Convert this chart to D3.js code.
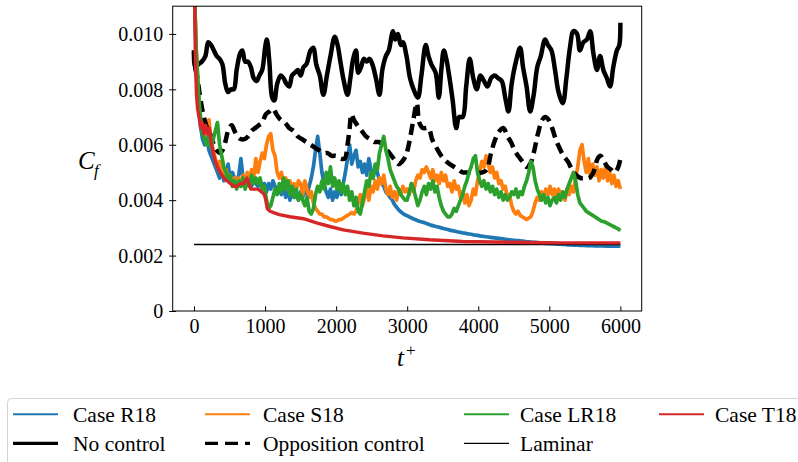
<!DOCTYPE html>
<html>
<head>
<meta charset="utf-8">
<script src="https://cdn.jsdelivr.net/npm/d3@7"></script>
<style>
  body { margin: 0; background: #fff; }
  svg { display: block; }
  svg text { font-family: "Liberation Serif", "Times New Roman", serif; }
</style>
</head>
<body>
<svg id="chart" width="798" height="462"></svg>
<script>
// sample times of the noisy runs (t+)
const tGrid = d3.range(0, 6001, 30);

// Cf in units of 1e-4, one value per tGrid point
const r18 = [
  120, 92, 76, 67, 62, 60, 63, 58, 56, 54,
  52, 50, 48, 51, 47, 49, 53, 47, 50, 48,
  46, 49, 55, 48, 46, 49, 47, 45, 48, 46,
  45, 47, 44, 46, 43, 46, 44, 47, 45, 43,
  44, 42, 45, 41, 44, 40, 43, 41, 42, 40,
  43, 41, 44, 42, 45, 48, 52, 58, 63, 57,
  50, 46, 43, 41, 44, 40, 43, 41, 45, 42,
  46, 50, 55, 60, 53, 56, 58, 52, 54, 50,
  53, 49, 55, 51, 48, 52, 50, 47, 46, 45,
  43, 42, 41, 40, 38.5, 37.5, 36.5, 35.8, 35.2, 34.7,
  34.4, 34, 33.6, 33.2, 32.9, 32.6, 32.3, 32.1, 31.9, 31.6,
  31.3, 31.0, 30.8, 30.6, 30.4, 30.2, 30.0, 29.8, 29.6, 29.4,
  29.2, 29.0, 28.9, 28.7, 28.5, 28.4, 28.2, 28.1, 27.9, 27.8,
  27.7, 27.5, 27.4, 27.3, 27.1, 27.0, 26.9, 26.8, 26.7, 26.6,
  26.5, 26.4, 26.3, 26.2, 26.1, 26.0, 25.9, 25.8, 25.7, 25.6,
  25.5, 25.4, 25.4, 25.3, 25.2, 25.1, 25.0, 25.0, 24.9, 24.8,
  24.8, 24.7, 24.6, 24.6, 24.5, 24.4, 24.4, 24.3, 24.3, 24.2,
  24.2, 24.1, 24.1, 24.0, 24.0, 23.9, 23.9, 23.9, 23.8, 23.8,
  23.8, 23.7, 23.7, 23.7, 23.6, 23.6, 23.6, 23.6, 23.5, 23.5,
  23.5, 23.5, 23.5, 23.4, 23.4, 23.4, 23.4, 23.4, 23.4, 23.4,
  23.4
];

const s18 = [
  120, 95, 80, 70, 66, 63, 66, 69, 62, 58,
  55, 52, 54, 50, 49, 51, 47, 49, 46, 48,
  45, 48, 45, 49, 46, 50, 47, 51, 48, 55,
  50, 54, 57, 55, 60, 63, 64, 58, 56, 50,
  48, 50, 46, 48, 44, 47, 43, 46, 44, 47,
  46, 42, 47, 44, 41, 43, 39, 37, 36, 35,
  35, 34, 34, 33.5, 33, 33, 32.5, 32.5, 33, 33,
  33.5, 34, 34.5, 35, 35.5, 35, 36, 39, 42, 38,
  41, 44, 40, 45, 43, 47, 44, 48, 46, 49,
  44, 42, 45, 41, 43, 40, 44, 42, 45, 43,
  44, 42, 46, 43, 47, 49, 48, 51, 50, 52,
  50, 48, 51, 47, 49, 46, 50, 47, 49, 45,
  46, 43, 47, 44, 45, 41, 43, 39, 42, 38,
  40, 44, 42, 47, 50, 54, 52, 56, 53, 50,
  52, 48, 50, 46, 47, 44, 45, 41, 42, 38,
  36, 35, 36, 34.5, 34, 33.5, 33, 33.5, 34, 36,
  39, 41, 40, 43, 41, 44, 42, 45, 42, 44,
  41, 44, 42, 43, 40, 44, 42, 45, 43, 48,
  52, 58, 60, 54, 50, 55, 48, 53, 49, 52,
  47, 51, 48, 52, 47, 50, 46, 49, 45, 47,
  44
];

const lr18 = [
  120, 95, 80, 70, 64, 62, 60, 63, 59, 62,
  65, 68, 60, 56, 52, 50, 47, 49, 45, 47,
  44, 47, 45, 48, 44, 47, 45, 49, 46, 48,
  46, 48, 44, 45, 40, 37, 38, 41, 44, 42,
  46, 43, 48, 44, 47, 42, 45, 41, 44, 40,
  42, 40, 38, 41, 36, 35, 37, 42, 45, 43,
  47, 44, 50, 46, 52, 45, 48, 44, 47, 43,
  46, 42, 45, 40, 43, 38, 41, 36, 35, 39,
  43, 47, 45, 50, 48, 53, 51, 57, 60, 63,
  58, 55, 51, 49, 47, 45, 44, 42, 41, 40,
  40, 43, 46, 44, 41, 38, 40, 43, 45, 42,
  46, 44, 47, 43, 45, 41, 38, 36, 35, 34,
  34, 35, 37, 36, 38, 40, 42, 45, 47, 50,
  52, 55, 56, 50, 47, 45, 47, 44, 46, 43,
  45, 42, 44, 41, 43, 40, 42, 40, 41, 43,
  42, 44, 41, 43, 42, 45, 47, 50, 54, 52,
  47, 44, 42, 40, 42, 39, 41, 38, 40, 41,
  39, 42, 40, 43, 41, 44, 46, 48, 50, 47,
  42, 39, 38, 37, 36, 35.5, 35, 34.5, 34, 33.5,
  33, 32.5, 32.3, 32, 31.6, 31.2, 30.8, 30.4, 30, 29.6,
  29
];

// smooth runs: own time stamps, Cf in units of 1e-4
const t18T = [0, 8, 20, 35, 50, 70, 95, 115, 140, 165, 190, 215, 240, 270, 300, 330, 370, 420, 464, 510,
  557, 600, 651, 700, 745, 770, 800, 850, 900, 950, 990, 1010, 1030, 1070, 1120, 1200, 1350, 1541, 1724, 1911,
  2100, 2378, 2659, 2939, 3313, 3780, 4248, 4715, 5182, 6000];
const t18V = [250, 115, 90, 78, 73, 70, 66, 68, 64, 67, 64, 66, 61, 57, 54, 52, 50, 48, 47, 46,
  45, 45, 46, 46, 48, 46, 44, 44, 44, 43, 42, 40, 37, 36.0, 35.5, 34.8, 34.0, 33.3, 31.8, 30.5,
  29.3, 28.1, 27.1, 26.4, 25.7, 25.1, 24.9, 24.7, 24.6, 24.6];

const noCtrlT = [0, 15, 60, 110, 160, 200, 240, 280, 320, 360, 400, 440, 480, 520, 560, 600, 650, 680, 720, 760,
  800, 840, 880, 920, 960, 1000, 1025, 1060, 1100, 1130, 1170, 1220, 1260, 1300, 1340, 1380, 1420, 1460, 1500, 1540,
  1580, 1640, 1680, 1720, 1770, 1820, 1870, 1920, 1980, 2020, 2060, 2100, 2160, 2200, 2240, 2280, 2310, 2350, 2390, 2430,
  2470, 2510, 2560, 2610, 2650, 2700, 2740, 2800, 2830, 2870, 2910, 2940, 2990, 3040, 3090, 3150, 3200, 3260, 3300, 3340,
  3400, 3445, 3480, 3516, 3550, 3590, 3640, 3690, 3730, 3780, 3830, 3880, 3930, 3980, 4030, 4080, 4130, 4180, 4230, 4280,
  4330, 4380, 4425, 4470, 4530, 4589, 4630, 4680, 4730, 4780, 4830, 4880, 4940, 4980, 5030, 5080, 5130, 5190, 5240, 5290,
  5340, 5390, 5430, 5480, 5530, 5575, 5620, 5670, 5714, 5760, 5810, 5855, 5900, 5950, 5985, 6000];
const noCtrlV = [94, 88, 89, 90, 92, 97, 96, 94, 92, 91, 89, 82, 79, 80, 80, 87, 93, 94, 90, 90,
  88, 84, 83, 85, 87, 95, 98, 90, 77, 76, 82, 85, 84, 82, 81, 85, 86, 87, 85, 88,
  89, 94, 95, 89, 85, 78, 85, 92, 99, 96, 90, 84, 78, 84, 91, 94, 86, 88, 91, 90,
  91, 89, 84, 78, 87, 92, 94, 101, 98, 100, 96, 97, 92, 84, 80, 77, 85, 96, 92, 89,
  86, 77, 87, 94, 91, 85, 76, 66, 70, 70, 81, 91, 84, 80, 85, 83, 81, 84, 85, 84,
  83, 77, 72, 82, 90, 95, 88, 81, 72, 78, 88, 92, 98, 96, 94, 87, 79, 75, 84, 95,
  101, 100, 94, 97, 98, 101, 93, 87, 92, 87, 84, 81, 88, 94, 96, 104];

const oppT = [0, 15, 40, 70, 100, 130, 160, 200, 240, 280, 320, 360, 400, 440, 480, 530, 570, 610, 660, 710,
  760, 810, 860, 910, 960, 1010, 1060, 1110, 1160, 1220, 1280, 1340, 1400, 1460, 1520, 1580, 1640, 1700, 1760, 1820,
  1880, 1940, 2000, 2060, 2120, 2160, 2190, 2215, 2250, 2300, 2360, 2420, 2480, 2540, 2600, 2660, 2720, 2780, 2840, 2880,
  2930, 2980, 3030, 3080, 3136, 3170, 3220, 3300, 3350, 3410, 3480, 3550, 3600, 3660, 3720, 3780, 3840, 3900, 3980, 4060,
  4120, 4180, 4240, 4300, 4355, 4410, 4460, 4510, 4560, 4620, 4680, 4730, 4780, 4840, 4900, 4940, 4990, 5040, 5090, 5140,
  5200, 5260, 5320, 5380, 5440, 5500, 5560, 5620, 5680, 5720, 5770, 5820, 5870, 5920, 5970, 6000];
const oppV = [94, 88, 85, 80, 75, 71, 68, 65, 63, 60, 58, 57, 58, 61, 65, 67, 65, 63, 62, 62,
  63, 65, 66, 67, 68, 71, 72, 73, 71, 69, 68, 66, 65, 63, 62, 61, 60, 59, 58, 57,
  57, 56, 56, 55, 55, 60, 66, 71, 69, 67, 65, 63, 62, 61, 61, 60, 58, 56, 54, 53,
  54, 56, 61, 68, 75, 68, 66, 66, 62, 59, 56, 54, 53, 52, 51, 50, 50, 50, 50, 50,
  51, 57, 62, 65, 66, 63, 61, 58, 56, 54, 52, 53, 57, 64, 69, 70, 69, 66, 62, 59,
  56, 54, 51, 49, 48, 48, 48, 50, 55, 56, 54, 52, 51, 50, 52, 55];

const laminarT = [0, 6000];
const laminarV = [24, 24];

const xTicks = [0, 1000, 2000, 3000, 4000, 5000, 6000];
const yTicks = [0, 0.002, 0.004, 0.006, 0.008, 0.010];

const svg = d3.select('#chart');
const plot = { left: 172.7, right: 641.7, top: 6.2, bottom: 311 };

const x = d3.scaleLinear().domain([-300, 6300]).range([plot.left, plot.right]);
const y = d3.scaleLinear().domain([0, 0.011]).range([plot.bottom, plot.top]);

svg.append('defs').append('clipPath').attr('id', 'clip')
  .append('rect')
  .attr('x', plot.left).attr('y', plot.top)
  .attr('width', plot.right - plot.left).attr('height', plot.bottom - plot.top);

const pts = (ts, vs) => ts.map((t, i) => [t, vs[i] * 1e-4]);

const series = [
  { key: 'Case R18', data: pts(tGrid, r18), color: '#1f77b4', w: 3.7 },
  { key: 'No control', data: pts(noCtrlT, noCtrlV), color: '#000', w: 4.5, curve: true },
  { key: 'Case S18', data: pts(tGrid, s18), color: '#ff7f0e', w: 3.7 },
  { key: 'Opposition control', data: pts(oppT, oppV), color: '#000', w: 4.5, dash: '11,6', curve: true },
  { key: 'Case LR18', data: pts(tGrid, lr18), color: '#2ca02c', w: 3.7 },
  { key: 'Laminar', data: pts(laminarT, laminarV), color: '#000', w: 1.6 },
  { key: 'Case T18', data: pts(t18T, t18V), color: '#d62728', w: 3.4 }
];

const lines = svg.append('g').attr('clip-path', 'url(#clip)');
series.forEach(s => {
  const gen = d3.line().x(d => x(d[0])).y(d => y(d[1]))
    .curve(s.curve ? d3.curveCatmullRom.alpha(0.5) : d3.curveLinear);
  lines.append('path')
    .datum(s.data)
    .attr('d', gen)
    .attr('fill', 'none')
    .attr('stroke', s.color)
    .attr('stroke-width', s.w)
    .attr('stroke-linejoin', 'round')
    .attr('stroke-dasharray', s.dash || null);
});

// axes
const xAxis = svg.append('g')
  .attr('transform', `translate(0,${plot.bottom})`)
  .call(d3.axisBottom(x).tickValues(xTicks).tickFormat(d3.format('d'))
    .tickSizeInner(-4.7).tickSizeOuter(0).tickPadding(10));
xAxis.attr('font-family', null).attr('font-size', null);
xAxis.select('.domain').remove();
xAxis.selectAll('text').attr('font-size', 20).attr('fill', '#000')
  .attr('dy', null).attr('y', 22);

const yAxis = svg.append('g')
  .attr('transform', `translate(${plot.left},0)`)
  .call(d3.axisLeft(y).tickValues(yTicks)
    .tickFormat(d => d === 0 ? '0' : d3.format('.3f')(d))
    .tickSizeInner(3.5).tickSizeOuter(0).tickPadding(6));
yAxis.attr('font-family', null).attr('font-size', null);
yAxis.select('.domain').remove();
yAxis.selectAll('.tick line').attr('x1', 3.5);
yAxis.selectAll('text').attr('font-size', 20).attr('fill', '#000').attr('dy', '0.34em');
svg.selectAll('.tick line').attr('stroke', '#000');

svg.append('rect')
  .attr('x', plot.left).attr('y', plot.top)
  .attr('width', plot.right - plot.left).attr('height', plot.bottom - plot.top)
  .attr('fill', 'none').attr('stroke', '#000').attr('stroke-width', 1);

// axis labels
svg.append('text').attr('x', 78).attr('y', 169)
  .attr('font-style', 'italic').attr('font-size', 25).text('C');
svg.append('text').attr('x', 94).attr('y', 176)
  .attr('font-style', 'italic').attr('font-size', 17).text('f');
svg.append('text').attr('x', 397).attr('y', 366)
  .attr('font-style', 'italic').attr('font-size', 25).text('t');
svg.append('text').attr('x', 406).attr('y', 356)
  .attr('font-size', 17).text('+');

// legend, filled column by column like matplotlib with ncol=4
const legendHandleX = [13, 205, 464, 659];
const legendTextX = [73, 263, 520, 715];
const legendRows = [414.3, 443.3];
const legendOrder = ['Case R18', 'No control', 'Case S18', 'Opposition control', 'Case LR18', 'Laminar', 'Case T18'];
const legendStyle = {
  'Case R18': { w: 2 }, 'Case S18': { w: 2 }, 'Case LR18': { w: 2 }, 'Case T18': { w: 2 },
  'No control': { w: 3.2 }, 'Opposition control': { w: 3.2, dash: '13,7' }, 'Laminar': { w: 1.3 }
};

const legend = svg.append('g');
legend.append('rect')
  .attr('x', 7.5).attr('y', 398.5).attr('width', 810).attr('height', 90).attr('rx', 4)
  .attr('fill', '#fff').attr('stroke', '#d4d4d4').attr('stroke-width', 1);

legendOrder.forEach((key, i) => {
  const s = series.find(d => d.key === key);
  const col = Math.floor(i / 2);
  const cy = legendRows[i % 2];
  const st = legendStyle[key];
  legend.append('line')
    .attr('x1', legendHandleX[col]).attr('x2', legendHandleX[col] + 45)
    .attr('y1', cy).attr('y2', cy)
    .attr('stroke', s.color).attr('stroke-width', st.w)
    .attr('stroke-dasharray', st.dash || null);
  legend.append('text')
    .attr('x', legendTextX[col]).attr('y', cy + 7.5)
    .attr('font-size', 21.5).attr('fill', '#000')
    .text(key);
});
</script>
</body>
</html>
